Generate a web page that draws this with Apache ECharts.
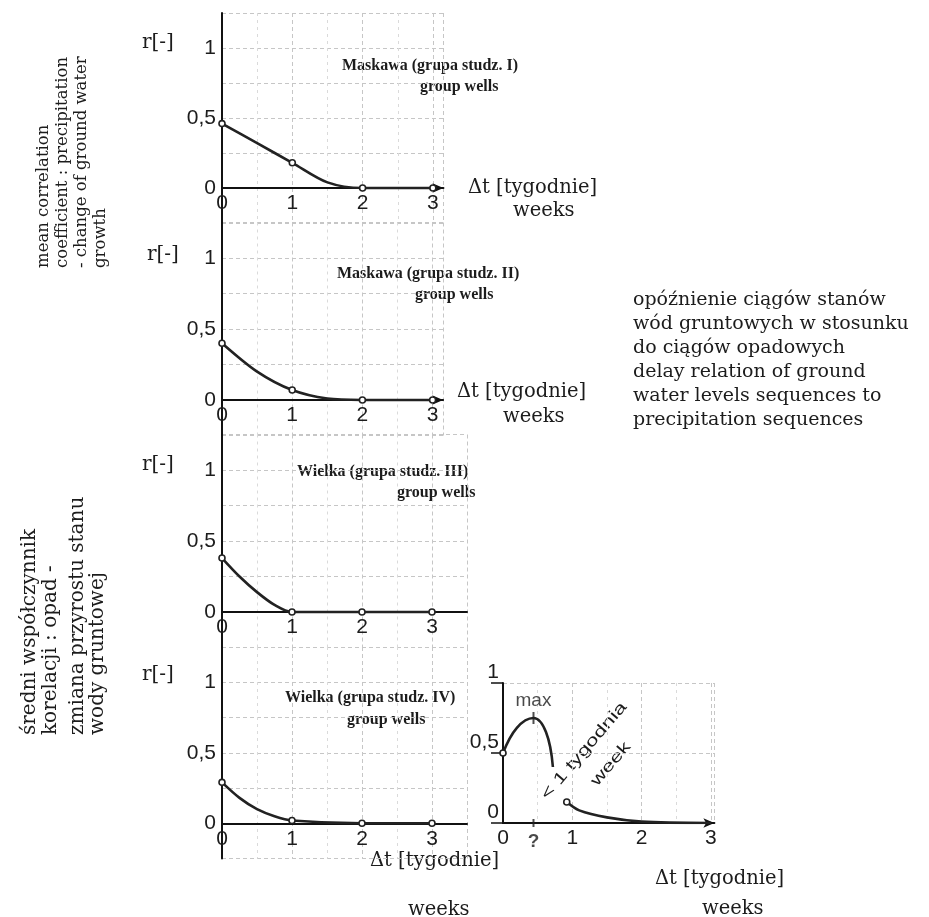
<!DOCTYPE html>
<html>
<head>
<meta charset="utf-8">
<script src="https://cdn.jsdelivr.net/npm/echarts@6/dist/echarts.min.js"></script>
<style>
html,body{margin:0;padding:0;background:#fff;}
#chart{width:929px;height:917px;}
</style>
</head>
<body>
<div id="chart"></div>
<script>
// ---- data ----
const xTickLabels = ['0', '1', '2', '3'];
const yTickLabels = { '0': '0', '0.5': '0,5', '1': '1' };

const p1X = [0, 0.5, 1, 1.5, 2, 3];
const p1R = [0.46, 0.32, 0.18, 0.04, 0, 0];

const p2X = [0, 0.5, 1, 1.5, 2, 3];
const p2R = [0.40, 0.20, 0.07, 0.01, 0, 0];

const p3X = [0, 0.25, 0.5, 0.75, 1, 2, 3];
const p3R = [0.38, 0.25, 0.14, 0.05, 0, 0, 0];

const p4X = [0, 0.25, 0.5, 0.75, 1, 2, 3];
const p4R = [0.29, 0.18, 0.10, 0.05, 0.02, 0, 0];

const p5aX = [0, 0.2, 0.44, 0.62, 0.72];
const p5aR = [0.5, 0.68, 0.75, 0.65, 0.40];
const p5bX = [0.92, 1.1, 1.5, 2, 3];
const p5bR = [0.15, 0.09, 0.04, 0.01, 0];
const p5MaxX = 0.44;
const p5MaxR = 0.75;

const panelTitles = [
  ['Maskawa (grupa studz. I)', 'group wells'],
  ['Maskawa (grupa studz. II)', 'group wells'],
  ['Wielka (grupa studz. III)', 'group wells'],
  ['Wielka (grupa studz. IV)', 'group wells']
];
const axisNameX = ['Δt [tygodnie]', 'weeks'];
const axisNameY = 'r[-]';
const leftTextEn = ['mean correlation', 'coefficient : precipitation', '- change of ground water', 'growth'];
const leftTextPl = ['średni współczynnik', 'korelacji : opad -', 'zmiana przyrostu stanu', 'wody gruntowej'];
const rightText = ['opóźnienie ciągów stanów', 'wód gruntowych w stosunku', 'do ciągów opadowych',
  'delay relation of ground', 'water levels sequences to', 'precipitation sequences'];
const delayText = '< 1 tygodnia';
const delayTextEn = 'week';
const maxText = 'max';
const unknownText = '?';

// ---- layout ----
const INK = '#1c1c1c';
const SERIF = "'DejaVu Serif', serif";
const TSERIF = "'Liberation Serif', serif";
const SANS = "'Liberation Sans', sans-serif";

const grids = [
  { left: 222, top: 13, width: 3.15 * 70.3, height: 210 },
  { left: 222, top: 222.5, width: 3.15 * 70.2, height: 213 },
  { left: 222, top: 434.5, width: 3.5 * 70, height: 213 },
  { left: 222, top: 647, width: 3.5 * 70, height: 211.5 },
  { left: 503, top: 683, width: 3.05 * 69.3, height: 140 }
];
const xMax = [3.15, 3.15, 3.5, 3.5, 3.05];
const yMin = [-0.25, -0.25, -0.25, -0.25, 0];
const yMax = [1.25, 1.25, 1.25, 1.25, 1];
const arrows = [true, true, false, false, true];

const gridLine = { show: true, lineStyle: { color: '#c6c6c6', type: [4, 3], width: 1 } };
const minorGridLine = { show: true, lineStyle: { color: '#dadada', type: [3, 4], width: 1 } };

function fmtY(v) {
  const k = String(Math.round(v * 100) / 100);
  return yTickLabels[k] !== undefined ? yTickLabels[k] : '';
}
function fmtX(v) {
  return Number.isInteger(v) && v >= 0 && v <= 3 ? xTickLabels[v] : '';
}

const xAxes = grids.map((g, i) => ({
  type: 'value', gridIndex: i, min: 0, max: xMax[i], interval: 1,
  position: 'bottom',
  // lift the axis from the grid bottom (yMin) up to r = 0
  offset: -g.height * (0 - yMin[i]) / (yMax[i] - yMin[i]),
  axisLine: {
    onZero: false, lineStyle: { color: '#111', width: 2 },
    symbol: arrows[i] ? ['none', 'arrow'] : ['none', 'none'], symbolSize: [7, 11]
  },
  axisTick: { show: false },
  minorTick: { show: false, splitNumber: 2 },
  axisLabel: { formatter: fmtX, color: INK, fontFamily: SANS, fontSize: 21, margin: 5, showMaxLabel: false },
  splitLine: gridLine,
  minorSplitLine: minorGridLine
}));

const yAxes = grids.map((g, i) => i < 4 ? ({
  type: 'value', gridIndex: i, min: yMin[i], max: yMax[i], interval: 0.25,
  axisLine: { show: true, onZero: false, lineStyle: { color: '#111', width: 2 } },
  axisTick: { show: false },
  axisLabel: { formatter: fmtY, color: INK, fontFamily: SANS, fontSize: 21, margin: 6 },
  splitLine: gridLine
}) : ({
  type: 'value', gridIndex: i, min: yMin[i], max: yMax[i], interval: 0.5,
  axisLine: { show: true, onZero: false, lineStyle: { color: '#111', width: 2 } },
  axisTick: { show: true, length: 12, lineStyle: { color: '#111', width: 1.5 } },
  axisLabel: { formatter: fmtY, color: INK, fontFamily: SANS, fontSize: 21, margin: 4, verticalAlign: 'bottom' },
  splitLine: gridLine
}));

function zip(xs, ys) { return xs.map((x, k) => [x, ys[k]]); }

const lineStyle = { color: '#222', width: 2.6 };
const itemStyle = { color: '#fff', borderColor: '#222', borderWidth: 1.6 };

function curve(i, xs, ys, symFn, sm) {
  return {
    type: 'line', xAxisIndex: i, yAxisIndex: i, data: zip(xs, ys),
    smooth: sm,
    symbol: symFn, symbolSize: 6, showAllSymbol: true,
    lineStyle: lineStyle, itemStyle: itemStyle, silent: true, z: 5
  };
}
const intSym = (v) => Number.isInteger(v[0]) ? 'circle' : 'none';
const firstSym = (v, p) => p.dataIndex === 0 ? 'circle' : 'none';

const series = [
  curve(0, p1X, p1R, intSym, 0.3),
  curve(1, p2X, p2R, intSym, 0.3),
  curve(2, p3X, p3R, intSym, 0.3),
  curve(3, p4X, p4R, intSym, 0.3),
  curve(4, p5aX, p5aR, firstSym, 0.4),
  curve(4, p5bX, p5bR, firstSym, 0.3),
  {
    type: 'scatter', xAxisIndex: 4, yAxisIndex: 4, data: [[p5MaxX, p5MaxR]],
    symbol: 'rect', symbolSize: [2, 12], itemStyle: { color: '#222' }, z: 6,
    label: { show: true, formatter: maxText, position: 'top', distance: 2,
      color: INK, fontFamily: SANS, fontSize: 19 }
  },
  {
    type: 'scatter', xAxisIndex: 4, yAxisIndex: 4, data: [[p5MaxX, 0]],
    symbol: 'rect', symbolSize: [2, 8], itemStyle: { color: '#222' }, z: 6,
    label: { show: true, formatter: unknownText, position: 'bottom', distance: 5,
      color: INK, fontFamily: SANS, fontSize: 19, fontWeight: 'bold' }
  }
];

// ---- text elements ----
function txt(x, y, text, font, opts) {
  return Object.assign({
    type: 'text', x: x, y: y, silent: true,
    style: Object.assign({ text: text, font: font, fill: INK, textAlign: 'left', textVerticalAlign: 'middle' },
      (opts && opts.style) || {})
  }, (opts && opts.el) || {});
}

const graphics = [];
// left rotated block (English)
[44, 63, 82, 101].forEach((x, k) => graphics.push(txt(x, 268, leftTextEn[k], '16.5px ' + SERIF, { el: { rotation: Math.PI / 2 } })));
// left rotated block (Polish)
[30, 51, 78, 98].forEach((x, k) => graphics.push(txt(x, 735, leftTextPl[k], '20px ' + SERIF, { el: { rotation: Math.PI / 2 } })));
// right text block
rightText.forEach((t, k) => graphics.push(txt(633, 300 + k * 24, t, '19px ' + SERIF)));
// r[-]
[[142, 43], [147, 255], [142, 465], [142, 675]].forEach(p => graphics.push(txt(p[0], p[1], axisNameY, '20px ' + SERIF)));
// panel titles
const titlePos = [[342, 66, 420, 87], [337, 274, 415, 295], [297, 472, 397, 493], [285, 698, 347, 720]];
titlePos.forEach((p, k) => {
  graphics.push(txt(p[0], p[1], panelTitles[k][0], 'bold 16px ' + TSERIF));
  graphics.push(txt(p[2], p[3], panelTitles[k][1], 'bold 16px ' + TSERIF));
});
// Δt labels
const dtPos = [[468, 188, 513, 211], [457, 392, 503, 417], [370, 861, 408, 910], [655, 879, 702, 909]];
dtPos.forEach(p => {
  graphics.push(txt(p[0], p[1], axisNameX[0], '19.5px ' + SERIF));
  graphics.push(txt(p[2], p[3], axisNameX[1], '19.5px ' + SERIF));
});
// rotated delay annotation
const rot = Math.atan2(97, 83);
graphics.push(txt(584, 751, delayText, '16px ' + SANS, { el: { rotation: rot, scaleX: 1.4 }, style: { textAlign: 'center' } }));
graphics.push(txt(611, 764, delayTextEn, '16px ' + SANS, { el: { rotation: rot, scaleX: 1.4 }, style: { textAlign: 'center' } }));

const chart = echarts.init(document.getElementById('chart'), null, { renderer: 'canvas' });
chart.setOption({
  backgroundColor: '#ffffff',
  animation: false,
  grid: grids.map(g => Object.assign({ containLabel: false }, g)),
  xAxis: xAxes,
  yAxis: yAxes,
  series: series,
  graphic: { elements: graphics }
});
</script>
</body>
</html>
